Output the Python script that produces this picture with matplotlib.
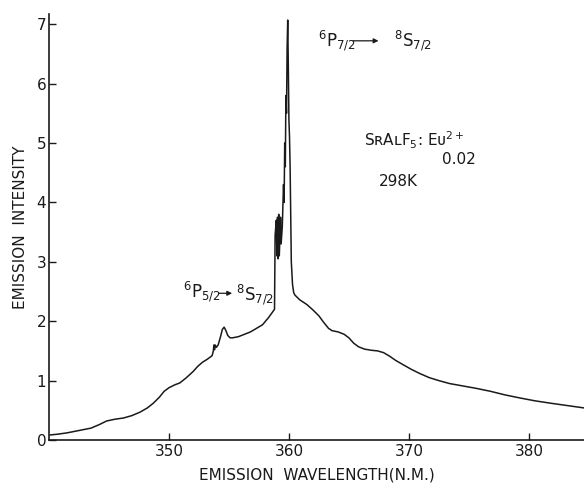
"""Emission spectrum of SrAlF5:Eu2+ (0.02) at 298 K, 6P -> 8S line region."""

import matplotlib.pyplot as plt

# wavelength (nm) and emission intensity (arb. units)
WAVELENGTH = [
    340.1, 340.8, 341.5, 342.5, 343.5, 344.2, 344.8, 345.5, 346.2, 346.9,
    347.6, 348.2, 348.7, 349.2, 349.6, 350.0, 350.5, 350.9, 351.4, 352.0,
    352.4, 352.8, 353.2, 353.6, 353.7, 353.75, 353.8, 353.85, 353.95, 354.1,
    354.3, 354.45, 354.6, 354.75, 354.9, 355.1, 355.3, 355.8, 356.3, 356.8,
    357.3, 357.8, 358.3, 358.8,
    358.85, 358.95, 359.0, 359.05, 359.1, 359.15, 359.2, 359.3, 359.35, 359.45,
    359.55, 359.6, 359.65, 359.7, 359.75, 359.8, 359.85, 359.9, 359.95, 360.0,
    360.05, 360.1, 360.15, 360.2, 360.3, 360.4, 360.5, 360.9,
    361.5, 362.0, 362.5, 362.9, 363.3, 363.6, 364.1, 364.6, 365.0, 365.4,
    365.8, 366.3, 366.9, 367.4, 367.9, 368.4, 368.9, 369.5, 370.2, 370.9,
    371.7, 372.5, 373.4, 374.5, 375.6, 376.8, 378.0, 379.2, 380.5, 381.8,
    383.2, 384.6,
]
INTENSITY = [
    0.085, 0.10, 0.12, 0.16, 0.20, 0.26, 0.32, 0.35, 0.37, 0.41,
    0.47, 0.54, 0.62, 0.72, 0.82, 0.88, 0.93, 0.96, 1.04, 1.15,
    1.24, 1.31, 1.36, 1.42, 1.50, 1.60, 1.52, 1.60, 1.56, 1.60,
    1.74, 1.86, 1.90, 1.84, 1.76, 1.72, 1.72, 1.74, 1.78, 1.82,
    1.88, 1.94, 2.06, 2.20,
    3.45, 3.70, 3.10, 3.75, 3.05, 3.80, 3.10, 3.75, 3.30, 3.60,
    4.30, 4.00, 5.00, 4.60, 5.80, 5.50, 6.60, 7.07, 6.30, 5.40,
    5.10, 4.60, 3.80, 3.00, 2.62, 2.48, 2.44, 2.36,
    2.28, 2.19, 2.09, 1.98, 1.88, 1.84, 1.82, 1.78, 1.72, 1.63,
    1.57, 1.53, 1.51, 1.50, 1.47, 1.41, 1.34, 1.27, 1.19, 1.12,
    1.05, 1.00, 0.95, 0.91, 0.87, 0.82, 0.76, 0.71, 0.66, 0.62,
    0.58, 0.54,
]

X_TICKS = [350, 360, 370, 380]
Y_TICKS = [0, 1, 2, 3, 4, 5, 6, 7]

INK = "#1a1a1a"

plt.rcParams["font.family"] = ["DejaVu Sans"]
plt.rcParams["mathtext.fontset"] = "dejavusans"

fig = plt.figure(figsize=(5.84, 4.84), dpi=100)
ax = fig.add_axes([0.0839, 0.0909, 0.9161, 0.880])

ax.plot(WAVELENGTH, INTENSITY, color=INK, linewidth=1.1)

ax.set_xlim(340, 384.6)
ax.set_ylim(0, 7.17)
ax.set_xticks(X_TICKS)
ax.set_yticks(Y_TICKS)
ax.tick_params(direction="in", length=5, width=1, colors=INK, labelsize=11, pad=3)
ax.tick_params(axis="y", pad=2)
for side in ("top", "right"):
    ax.spines[side].set_visible(False)
for side in ("left", "bottom"):
    ax.spines[side].set_color(INK)
    ax.spines[side].set_linewidth(1.2)

ax.set_xlabel("EMISSION  WAVELENGTH(N.M.)", fontsize=11, color=INK, labelpad=6)
ax.set_ylabel("EMISSION  INTENSITY", fontsize=11, color=INK, labelpad=6)

# transition labels
ax.text(362.4, 6.72, r"$^{6}$P$_{7/2}$", fontsize=12, color=INK, va="center")
ax.annotate("", xy=(367.7, 6.72), xytext=(365.1, 6.72),
            arrowprops=dict(arrowstyle="-|>", color=INK, lw=0.9, mutation_scale=7))
ax.text(368.8, 6.72, r"$^{8}$S$_{7/2}$", fontsize=12, color=INK, va="center")

ax.text(351.2, 2.49, r"$^{6}$P$_{5/2}$", fontsize=12, color=INK, va="center")
ax.annotate("", xy=(355.5, 2.47), xytext=(353.9, 2.47),
            arrowprops=dict(arrowstyle="-|>", color=INK, lw=0.9, mutation_scale=7))
ax.text(355.6, 2.45, r"$^{8}$S$_{7/2}$", fontsize=12, color=INK, va="center")

# sample and temperature
ax.text(366.3, 5.05, "SʀAʟF$_5$: Eᴜ$^{2+}$", fontsize=11, color=INK, va="center")
ax.text(372.8, 4.72, "0.02", fontsize=11, color=INK, va="center")
ax.text(367.5, 4.35, "298K", fontsize=11, color=INK, va="center")

fig.savefig("out.png", dpi=100)
